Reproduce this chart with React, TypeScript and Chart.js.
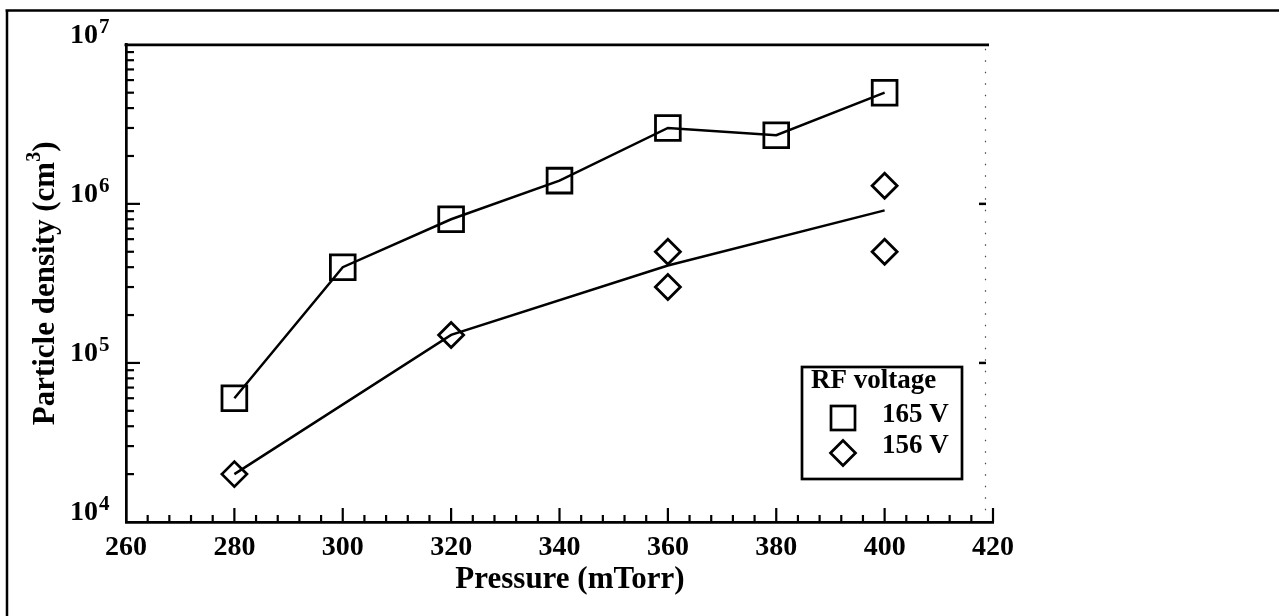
import React, { useEffect, useRef } from 'react';
import { Chart, registerables } from 'chart.js';

Chart.register(...registerables);

// ---- data ----
const pressures165 = [280, 300, 320, 340, 360, 380, 400];
const density165 = [6e4, 4e5, 8e5, 1.4e6, 3e6, 2.7e6, 5e6];
const pressures156 = [280, 320, 360, 360, 400, 400];
const density156 = [2e4, 1.5e5, 5e5, 3e5, 1.3e6, 5e5];
const fitPressures156 = [280, 320, 360, 400];
const fitDensity156 = [2e4, 1.5e5, 4.1e5, 9.1e5];
const xTickLabels = ['260', '280', '300', '320', '340', '360', '380', '400', '420'];
const yTickExponents = [4, 5, 6, 7];
const seriesLabels = ['165 V', '156 V'];
const legendTitle = 'RF voltage';
const xTitle = 'Pressure (mTorr)';
const yTitleMain = 'Particle density (cm';
const yTitleSup = '3';
const yTitleEnd = ')';

const SERIF = '"Liberation Serif", "Times New Roman", Times, serif';

const isDecade = (v: number) => {
  const l = Math.log10(v);
  return Math.abs(l - Math.round(l)) < 1e-9;
};

const decorPlugin = {
  id: 'decor',
  beforeDraw(chart: any) {
    const ctx = chart.ctx;
    ctx.save();
    ctx.strokeStyle = '#000';
    ctx.lineWidth = 2.5;
    ctx.beginPath();
    ctx.moveTo(5.5, 10.5);
    ctx.lineTo(1279, 10.5);
    ctx.moveTo(7, 9.5);
    ctx.lineTo(7, 616);
    ctx.stroke();
    ctx.restore();
  },
  afterDraw(chart: any) {
    const ctx = chart.ctx;
    const a = chart.chartArea;
    const xs = chart.scales.x;
    const ys = chart.scales.y;
    ctx.save();
    ctx.strokeStyle = '#000';
    ctx.fillStyle = '#000';

    // top frame line
    ctx.lineWidth = 2.7;
    ctx.beginPath();
    ctx.moveTo(a.left - 1.5, a.top);
    ctx.lineTo(989, a.top);
    ctx.stroke();

    // right dotted line
    ctx.save();
    ctx.lineWidth = 1.2;
    ctx.strokeStyle = '#444';
    ctx.setLineDash([1.5, 10]);
    ctx.beginPath();
    ctx.moveTo(985.5, a.top + 4);
    ctx.lineTo(985.5, a.bottom - 2);
    ctx.stroke();
    ctx.restore();

    // right small ticks at interior decades
    ctx.lineWidth = 2.5;
    yTickExponents.slice(1, -1).forEach((e) => {
      const py = ys.getPixelForValue(Math.pow(10, e));
      ctx.beginPath();
      ctx.moveTo(979, py);
      ctx.lineTo(986, py);
      ctx.stroke();
    });

    // x inner ticks
    ctx.lineWidth = 2.2;
    xs.ticks.forEach((t: any) => {
      const px = xs.getPixelForValue(t.value);
      if (px <= a.left + 1) return;
      const major = Math.round(t.value) % 20 === 0;
      const len = major ? 14 : 7;
      ctx.beginPath();
      ctx.moveTo(px, a.bottom);
      ctx.lineTo(px, a.bottom - len);
      ctx.stroke();
    });

    // y inner ticks (decades major, 2..9 minor)
    for (let i = 0; i < yTickExponents.length; i++) {
      const e = yTickExponents[i];
      for (let k = 1; k <= 9; k++) {
        if (i === yTickExponents.length - 1 && k > 1) break;
        const v = k * Math.pow(10, e);
        const py = ys.getPixelForValue(v);
        if (py >= a.bottom - 1 || py <= a.top + 1) continue;
        const len = k === 1 ? 14 : 8;
        ctx.beginPath();
        ctx.moveTo(a.left, py);
        ctx.lineTo(a.left + len, py);
        ctx.stroke();
      }
    }

    // y exponent superscripts
    ctx.font = `bold 21px ${SERIF}`;
    ctx.textAlign = 'left';
    ctx.textBaseline = 'alphabetic';
    yTickExponents.forEach((e) => {
      const py = ys.getPixelForValue(Math.pow(10, e));
      ctx.fillText(String(e), 99, py - 12);
    });

    // x title
    ctx.font = `bold 31px ${SERIF}`;
    ctx.textAlign = 'center';
    ctx.fillText(xTitle, 570, 588);

    // y title (rotated, with superscript)
    const cy = (a.top + a.bottom) / 2;
    ctx.save();
    ctx.translate(54, cy);
    ctx.rotate(-Math.PI / 2);
    ctx.textAlign = 'left';
    ctx.font = `bold 31px ${SERIF}`;
    const w1 = ctx.measureText(yTitleMain).width;
    const w3 = ctx.measureText(yTitleEnd).width;
    ctx.font = `bold 20px ${SERIF}`;
    const w2 = ctx.measureText(yTitleSup).width;
    const total = w1 + w2 + w3;
    let x0 = -total / 2;
    ctx.font = `bold 31px ${SERIF}`;
    ctx.fillText(yTitleMain, x0, 0);
    x0 += w1;
    ctx.font = `bold 20px ${SERIF}`;
    ctx.fillText(yTitleSup, x0, -14);
    x0 += w2;
    ctx.font = `bold 31px ${SERIF}`;
    ctx.fillText(yTitleEnd, x0, 0);
    ctx.restore();

    // legend
    ctx.lineWidth = 2.7;
    ctx.strokeRect(802, 367, 160, 112);
    ctx.font = `bold 27px ${SERIF}`;
    ctx.textAlign = 'left';
    ctx.fillText(legendTitle, 811, 388);
    // square marker
    ctx.lineWidth = 2.7;
    ctx.strokeRect(843 - 12, 418 - 12, 24, 24);
    ctx.fillText(seriesLabels[0], 882, 422);
    // diamond marker
    ctx.beginPath();
    ctx.moveTo(843 - 12.5, 453);
    ctx.lineTo(843, 453 - 12.5);
    ctx.lineTo(843 + 12.5, 453);
    ctx.lineTo(843, 453 + 12.5);
    ctx.closePath();
    ctx.stroke();
    ctx.fillText(seriesLabels[1], 882, 453);

    ctx.restore();
  },
};

export default function App() {
  const canvasRef = useRef<HTMLCanvasElement | null>(null);

  useEffect(() => {
    if (!canvasRef.current) return;
    const tickFont = { family: SERIF, size: 28, weight: 'bold' as const };
    const chart = new Chart(canvasRef.current, {
      type: 'scatter',
      data: {
        datasets: [
          {
            label: seriesLabels[0],
            data: pressures165.map((x, i) => ({ x, y: density165[i] })),
            showLine: true,
            borderColor: '#000',
            borderWidth: 2.5,
            backgroundColor: 'rgba(0,0,0,0)',
            pointStyle: 'rect',
            pointRadius: 17.5,
            pointHoverRadius: 17.5,
            pointBorderWidth: 2.8,
            pointBorderColor: '#000',
            pointBackgroundColor: 'rgba(0,0,0,0)',
          },
          {
            label: seriesLabels[1],
            data: pressures156.map((x, i) => ({ x, y: density156[i] })),
            showLine: false,
            borderColor: '#000',
            backgroundColor: 'rgba(0,0,0,0)',
            pointStyle: 'rectRot',
            pointRadius: 12.5,
            pointHoverRadius: 12.5,
            pointBorderWidth: 2.8,
            pointBorderColor: '#000',
            pointBackgroundColor: 'rgba(0,0,0,0)',
          },
          {
            label: seriesLabels[1] + ' fit',
            data: fitPressures156.map((x, i) => ({ x, y: fitDensity156[i] })),
            showLine: true,
            borderColor: '#000',
            borderWidth: 2.5,
            pointRadius: 0,
            pointHoverRadius: 0,
          },
        ],
      },
      options: {
        animation: false,
        responsive: true,
        maintainAspectRatio: false,
        events: [],
        layout: { padding: { left: 0, top: 42, right: 1279 - 993, bottom: 44 } },
        plugins: { legend: { display: false }, tooltip: { enabled: false } },
        scales: {
          x: {
            type: 'linear',
            min: 260,
            max: 420,
            grid: { display: false, drawTicks: false },
            border: { display: true, color: '#000', width: 2.7 },
            ticks: {
              stepSize: 4,
              autoSkip: false,
              maxRotation: 0,
              color: '#000',
              font: tickFont,
              padding: 9,
              callback: (v: any) => {
                const s = String(Math.round(Number(v)));
                return xTickLabels.includes(s) && Number(v) % 20 === 0 ? s : '';
              },
            },
            afterFit: (s: any) => {
              s.height = 50;
            },
          },
          y: {
            type: 'logarithmic',
            min: Math.pow(10, yTickExponents[0]),
            max: Math.pow(10, yTickExponents[yTickExponents.length - 1]),
            grid: { display: false, drawTicks: false },
            border: { display: true, color: '#000', width: 2.7 },
            afterBuildTicks: (s: any) => {
              s.ticks = yTickExponents.map((e) => ({ value: Math.pow(10, e) }));
            },
            ticks: {
              autoSkip: false,
              color: '#000',
              font: tickFont,
              padding: 28,
              labelOffset: -9,
              callback: (v: any) => (isDecade(Number(v)) ? '10' : ''),
            },
            afterFit: (s: any) => {
              s.width = 126;
            },
          },
        },
      },
      plugins: [decorPlugin],
    });
    return () => chart.destroy();
  }, []);

  return (
    <div
      style={{
        position: 'fixed',
        left: 0,
        top: 0,
        width: 1279,
        height: 616,
        background: '#fff',
        overflow: 'hidden',
      }}
    >
      <canvas ref={canvasRef} />
    </div>
  );
}
